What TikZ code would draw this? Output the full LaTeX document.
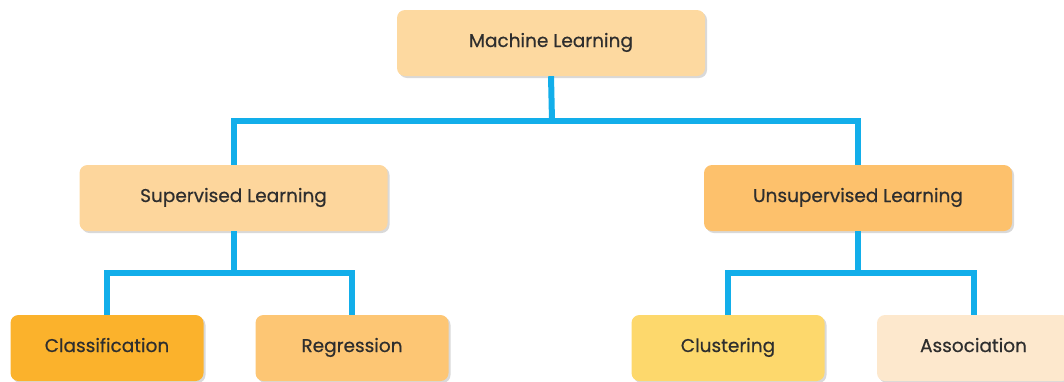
\documentclass[tikz,border=0pt]{standalone}
\usepackage{fontspec}
\setmainfont{Poppins}
\newfontfamily\boxfont[FakeBold=0.5]{Poppins}
\usepackage{tikz}
\usetikzlibrary{positioning, calc, shadows}
\usepackage{xcolor}
\definecolor{ml-peach}{HTML}{FDD9A0}
\definecolor{sup-peach}{HTML}{FDD69C}
\definecolor{uns-orange}{HTML}{FDC16C}
\definecolor{cla-orange}{HTML}{FBB22C}
\definecolor{reg-orange}{HTML}{FDC674}
\definecolor{clu-yellow}{HTML}{FDD86C}
\definecolor{ass-cream}{HTML}{FDE8CD}
\definecolor{link-blue}{HTML}{12AEEA}
\definecolor{txt-gray}{HTML}{2E2E2E}

\tikzset{
	box/.style={rounded corners=8pt, minimum height=66pt, text=txt-gray, font=\boxfont\fontsize{18.5}{21}\selectfont,
		text height=1em, text depth=0.2em,
		drop shadow={shadow xshift=2pt, shadow yshift=-2pt, opacity=.25, fill=black!60}},
	bigbox/.style={box, minimum width=308pt},
	smallbox/.style={box, minimum width=193pt},
	link/.style={link-blue, line width=6pt}
}

\begin{document}
\begin{tikzpicture}[x=1pt, y=-1pt]
	\useasboundingbox (0,0) rectangle (1064,381);
	\node[bigbox, fill=ml-peach] at (551,43) (ml) {Machine Learning};
	\node[bigbox, fill=sup-peach] at (233.5,198) (sup) {Supervised Learning};
	\node[bigbox, fill=uns-orange] at (858,198) (uns) {Unsupervised Learning};
	
	\node[smallbox, fill=cla-orange] at (107,348) (cla) {Classification};
	\node[smallbox, fill=reg-orange] at (352,348) (reg) {Regression};
	\node[smallbox, fill=clu-yellow] at (728,348) (clu) {Clustering};
	\node[smallbox, fill=ass-cream] at (973.5,348) (ass) {Association};
	
	\coordinate (top) at (552,121);
	\coordinate (left) at (233.5,273);
	\coordinate (right) at (858,273);
	
	\draw[link] (ml.south) -- (top);
	\draw[link] (sup.north) |- (top) -| (uns.north);
	\draw[link] (sup.south) -- (left);
	\draw[link] (cla.north) |- (left) -| (reg.north);
	\draw[link] (uns.south) -- (right);
	\draw[link] (clu.north) |- (right) -| (ass.north);
\end{tikzpicture}
\end{document}
